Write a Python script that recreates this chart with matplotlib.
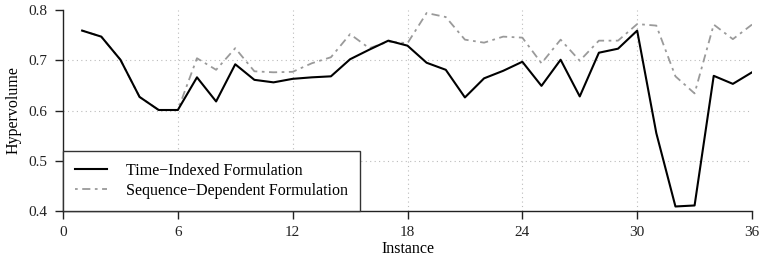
import matplotlib
matplotlib.use("Agg")
import matplotlib.pyplot as plt

plt.rcParams['font.family'] = ['Liberation Serif', 'DejaVu Serif']

instances = list(range(1, 37))
time_indexed = [0.759, 0.747, 0.701, 0.627, 0.601, 0.601, 0.666, 0.618, 0.692, 0.661,
                0.656, 0.663, 0.666, 0.668, 0.702, 0.721, 0.739, 0.729, 0.695, 0.681,
                0.626, 0.664, 0.679, 0.697, 0.649, 0.701, 0.628, 0.715, 0.723, 0.759,
                0.555, 0.409, 0.411, 0.669, 0.653, 0.676]
seq_dependent = [0.759, 0.747, 0.701, 0.627, 0.601, 0.601, 0.704, 0.681, 0.724, 0.678,
                 0.676, 0.677, 0.694, 0.706, 0.752, 0.724, 0.737, 0.734, 0.794, 0.786,
                 0.741, 0.735, 0.747, 0.745, 0.694, 0.741, 0.699, 0.739, 0.739, 0.772,
                 0.769, 0.668, 0.634, 0.771, 0.742, 0.771]
xticks = [0, 6, 12, 18, 24, 30, 36]
yticks = [0.4, 0.5, 0.6, 0.7, 0.8]

fig = plt.figure(figsize=(7.6, 2.56), dpi=100)
ax = fig.add_axes([63 / 760, 1 - 211 / 256, 689 / 760, 201 / 256])

# dotted grid only on the inner ticks
for xv in xticks[1:-1]:
    ax.axvline(xv, color='#bbbbbb', linestyle=(0, (1, 3)), lw=0.8, zorder=1)
for yv in yticks[1:-1]:
    ax.axhline(yv, color='#bbbbbb', linestyle=(0, (1, 3)), lw=0.8, zorder=1)

ax.plot(instances, seq_dependent, color='#9a9a9a', lw=1.3, dashes=(1.5, 2.5, 4.5, 2.5),
        label='Sequence\u2212Dependent Formulation', zorder=3)
ax.plot(instances, time_indexed, color='black', lw=1.5,
        label='Time\u2212Indexed Formulation', zorder=4)

ax.set_xlim(0, 36)
ax.set_ylim(0.4, 0.8)
ax.set_xticks(xticks)
ax.set_yticks(yticks)
ax.set_yticklabels(['0.4', '0.5', '0.6', '0.7', '0.8'])
for s in ['top', 'right']:
    ax.spines[s].set_visible(False)
for s in ['left', 'bottom']:
    ax.spines[s].set_color('#222222')
    ax.spines[s].set_linewidth(1.0)
ax.tick_params(direction='out', length=6, width=1.0, colors='#222222', labelsize=11, pad=5)
ax.set_xlabel('Instance', fontsize=11.5, labelpad=1)
ax.set_ylabel('Hypervolume', fontsize=11.5, labelpad=5)

handles, labels = ax.get_legend_handles_labels()
leg = ax.legend(handles[::-1], labels[::-1], loc='lower left', bbox_to_anchor=(0, 0),
                borderaxespad=0, fancybox=False, framealpha=1, edgecolor='#333333',
                fontsize=11.5, handlelength=2.0, handletextpad=1.2, borderpad=0.75,
                labelspacing=0.28)
leg.get_frame().set_linewidth(1.0)
leg.set_zorder(5)

fig.savefig('out.png', dpi=100)
